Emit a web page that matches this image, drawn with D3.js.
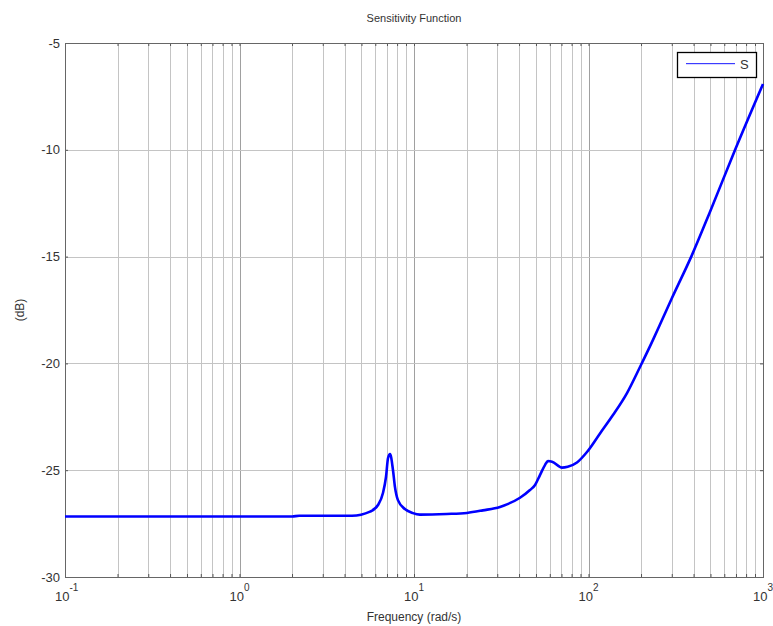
<!DOCTYPE html>
<html>
<head>
<meta charset="utf-8">
<script src="https://cdn.jsdelivr.net/npm/d3@7"></script>
<style>
  body { margin: 0; background: #fff; }
  svg text { font-family: "Liberation Sans", Arial, sans-serif; fill: #333; }
</style>
</head>
<body>
<svg width="773" height="626"></svg>
<script>
"use strict";

// frequency (rad/s) and sensitivity magnitude (dB)
const freq = [0.1, 0.5, 2.0, 2.2, 4.41, 5.6, 6.22, 6.64, 6.91, 7.1, 7.29, 7.58, 7.78, 8.09, 8.87, 9.86,
  10.8, 15.4, 20.1, 24.8, 31.1, 34.1, 40.5, 46.2, 49.4, 52.7, 56.3, 58.6, 61.8, 70.5, 76.0, 85.9,
  98.0, 116.4, 138.1, 166.2, 197.3, 234.2, 263.8, 300.8, 391.5, 496.6, 691.2, 1000];
const magDb = [-27.17, -27.17, -27.17, -27.13, -27.13, -26.94, -26.63, -26.07, -25.32, -24.43, -24.24, -25.0, -25.79, -26.4, -26.82, -27.01,
  -27.08, -27.05, -27.0, -26.88, -26.72, -26.6, -26.29, -25.93, -25.69, -25.23, -24.76, -24.57, -24.6, -24.88, -24.84, -24.64,
  -24.15, -23.28, -22.42, -21.39, -20.17, -18.9, -17.97, -16.94, -14.93, -12.91, -10.01, -6.92];

const decades = [0.1, 1, 10, 100, 1000];
const decadeExp = ["-1", "0", "1", "2", "3"];
const yTicks = [-30, -25, -20, -15, -10, -5];
const legendLabel = "S";

const Box = {LEFT: 65, RIGHT: 763, TOP: 43, BOTTOM: 577};
const svg = d3.select("svg");

const x = d3.scaleLog().domain([0.1, 1000]).range([Box.LEFT, Box.RIGHT]);
const y = d3.scaleLinear().domain([-30, -5]).range([Box.BOTTOM, Box.TOP]);

// every 1..9 step inside each decade
const minor = [];
decades.slice(0, -1).forEach(d => { for (let k = 1; k < 10; k++) minor.push(d * k); });
minor.push(1000);

// vertical grid
svg.append("g")
  .selectAll("line")
  .data(minor.slice(1, -1))
  .enter().append("line")
  .attr("x1", d => Math.round(x(d)) + 0.5).attr("x2", d => Math.round(x(d)) + 0.5)
  .attr("y1", Box.TOP).attr("y2", Box.BOTTOM)
  .attr("stroke", d => decades.includes(d) ? "#a0a0a0" : "#c4c4c4")
  .attr("stroke-width", 1);

// horizontal grid
svg.append("g")
  .selectAll("line")
  .data(yTicks.slice(1, -1))
  .enter().append("line")
  .attr("x1", Box.LEFT).attr("x2", Box.RIGHT)
  .attr("y1", d => Math.round(y(d)) + 0.5).attr("y2", d => Math.round(y(d)) + 0.5)
  .attr("stroke", "#c4c4c4")
  .attr("stroke-width", 1);

// inward ticks on all four sides
svg.append("g")
  .attr("transform", `translate(0, ${Box.BOTTOM})`)
  .call(d3.axisBottom(x).tickValues(minor).tickSize(-3).tickSizeOuter(0).tickFormat(""))
  .call(g => g.select(".domain").remove())
  .selectAll("line").attr("stroke", "#555");
svg.append("g")
  .attr("transform", `translate(0, ${Box.TOP})`)
  .call(d3.axisTop(x).tickValues(minor).tickSize(-3).tickSizeOuter(0).tickFormat(""))
  .call(g => g.select(".domain").remove())
  .selectAll("line").attr("stroke", "#555");
svg.append("g")
  .attr("transform", `translate(${Box.RIGHT}, 0)`)
  .call(d3.axisRight(y).tickValues(yTicks).tickSize(-3).tickSizeOuter(0).tickFormat(""))
  .call(g => g.select(".domain").remove())
  .selectAll("line").attr("stroke", "#555");

const yAxis = svg.append("g")
  .attr("transform", `translate(${Box.LEFT}, 0)`)
  .call(d3.axisLeft(y).tickValues(yTicks).tickSize(-3).tickSizeOuter(0).tickPadding(5).tickFormat(d => String(d)));
yAxis.select(".domain").remove();
yAxis.selectAll("line").attr("stroke", "#555");
yAxis.selectAll("text").attr("font-size", 13).attr("fill", "#333")
  .attr("font-family", "Liberation Sans, Arial, sans-serif");

// box
svg.append("rect")
  .attr("x", Box.LEFT + 0.5).attr("y", Box.TOP + 0.5)
  .attr("width", Box.RIGHT - Box.LEFT).attr("height", Box.BOTTOM - Box.TOP)
  .attr("fill", "none").attr("stroke", "#666").attr("stroke-width", 1);

// x tick labels with exponents
const xl = svg.append("g");
decades.forEach((d, i) => {
  const t = xl.append("text")
    .attr("x", x(d) - 10).attr("y", 601)
    .attr("font-size", 13);
  t.append("tspan").text("10");
  t.append("tspan").attr("dy", -10).attr("font-size", 10).text(decadeExp[i]);
});

// curve
const line = d3.line()
  .x((d, i) => x(freq[i]))
  .y(d => y(d))
  .curve(d3.curveMonotoneX);
svg.append("path")
  .datum(magDb)
  .attr("fill", "none")
  .attr("stroke", "#0000ff")
  .attr("stroke-width", 2.6)
  .attr("stroke-linejoin", "round")
  .attr("d", line);

// titles
svg.append("text").attr("x", 414).attr("y", 22).attr("text-anchor", "middle")
  .attr("font-size", 11).attr("fill", "#111").text("Sensitivity Function");
svg.append("text").attr("x", 414).attr("y", 621).attr("text-anchor", "middle")
  .attr("font-size", 12).attr("fill", "#111").text("Frequency (rad/s)");
svg.append("text").attr("transform", "translate(24 310) rotate(-90)").attr("text-anchor", "middle")
  .attr("font-size", 12).attr("fill", "#111").text("(dB)");

// legend
const lg = svg.append("g");
lg.append("rect").attr("x", 677.5).attr("y", 52.5).attr("width", 79).attr("height", 25)
  .attr("fill", "#fff").attr("stroke", "#000").attr("stroke-width", 1.3);
lg.append("rect").attr("x", 686).attr("y", 63).attr("width", 49).attr("height", 1.2)
  .style("fill", "#3c3cff");
lg.append("text").attr("x", 740).attr("y", 69).attr("font-size", 13).attr("fill", "#111").text(legendLabel);
</script>
</body>
</html>
